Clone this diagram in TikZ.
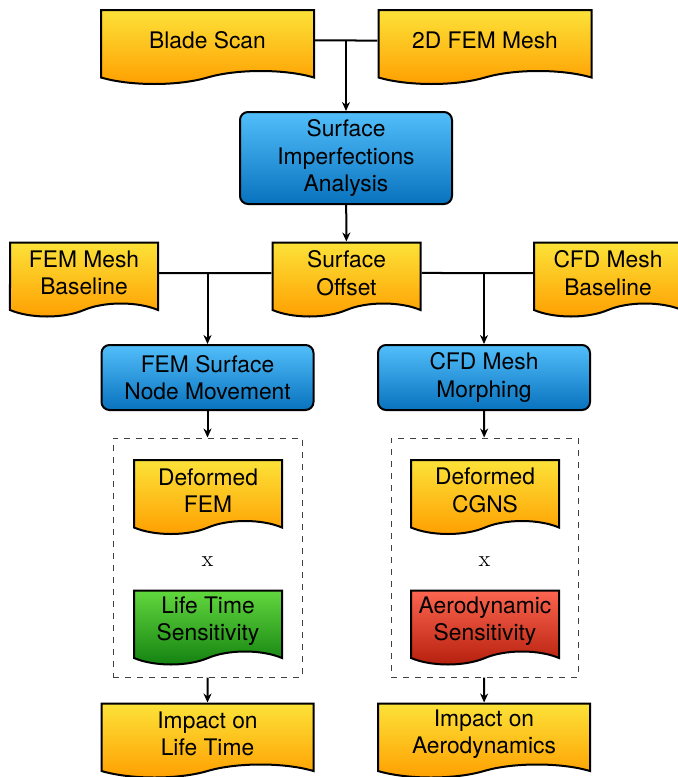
\documentclass[tikz,border=0pt]{standalone}
\usepackage{fontspec}
\setsansfont{TeX Gyre Heros}
\usetikzlibrary{shapes.symbols,arrows.meta}

\definecolor{docTop}{RGB}{252,226,56}
\definecolor{docBottom}{RGB}{255,158,0}
\definecolor{procTop}{RGB}{82,190,250}
\definecolor{procBottom}{RGB}{8,114,190}
\definecolor{lifeTop}{RGB}{98,216,62}
\definecolor{lifeBottom}{RGB}{18,128,16}
\definecolor{aeroTop}{RGB}{252,102,80}
\definecolor{aeroBottom}{RGB}{180,30,12}

\begin{document}
\begin{tikzpicture}[x=0.5pt, y=-0.5pt,
    font=\sffamily\fontsize{11.4}{13.7}\selectfont,
    docbox/.style={tape, tape bend top=none, tape bend height=6.5pt, draw, line width=1pt,
        align=center, inner sep=1pt, minimum width=74pt, minimum height=37pt,
        top color=docTop, bottom color=docBottom},
    procbox/.style={rectangle, rounded corners=4pt, draw, line width=1pt, align=center,
        minimum width=106pt, minimum height=32.5pt, top color=procTop, bottom color=procBottom},
    link/.style={line width=1pt},
    arrow/.style={line width=1pt, -{Stealth[length=4.5pt, width=4pt]}},
    group/.style={draw=black!75, dashed, line width=0.5pt, minimum height=119.5pt}
]
\useasboundingbox (0,0) rectangle (678,777);

% --- Inputs ---
\node[docbox, minimum width=106.5pt] (scan) at (207.5,40.5) {Blade Scan};
\node[docbox, minimum width=106.5pt] (mesh2d) at (485,40.5) {2D FEM Mesh};
\node[procbox, minimum height=46pt] (sia) at (346,158) {Surface\\Imperfections\\Analysis};

\draw[link] (scan) -- (mesh2d);
\draw[arrow] (sia |- scan.east) -- (sia);

% --- Offset and baselines ---
\node[docbox] (offset) at (346.5,273) {Surface\\Offset};
\node[docbox] (fembase) at (84,273) {FEM Mesh\\Baseline};
\node[docbox] (cfdbase) at (608,273) {CFD Mesh\\Baseline};
\draw[arrow] (sia) -- (offset);

\node[procbox] (femmove) at (207.5,377.5) {FEM Surface\\Node Movement};
\node[procbox] (cfdmove) at (484,377.5) {CFD Mesh\\Morphing};

\draw[link] (fembase) -- (offset);
\draw[link] (offset) -- (cfdbase);
\draw[arrow] (femmove |- fembase.east) -- (femmove);
\draw[arrow] (cfdmove |- cfdbase.west) -- (cfdmove);

% --- Sensitivity products ---
\node[group, minimum width=94.5pt] (femgroup) at (207.5,557.5) {};
\node[group, minimum width=93.5pt] (cfdgroup) at (484.5,557.5) {};

\node[docbox] (deffem) at (208,490.5) {Deformed\\FEM};
\node[font=\rmfamily\fontsize{11.4}{13.7}\selectfont] (femtimes) at (207.5,562) {x};
\node[docbox, top color=lifeTop, bottom color=lifeBottom] (lifesens) at (208,621) {Life Time\\Sensitivity};

\node[docbox] (defcgns) at (485,490.5) {Deformed\\CGNS};
\node[font=\rmfamily\fontsize{11.4}{13.7}\selectfont] (cfdtimes) at (484.5,562) {x};
\node[docbox, top color=aeroTop, bottom color=aeroBottom] (aerosens) at (485,621) {Aerodynamic\\Sensitivity};

\draw[arrow] (femmove) -- (femgroup);
\draw[arrow] (cfdmove) -- (cfdgroup);

% --- Results ---
\node[docbox, minimum width=106pt] (implife) at (207.5,734) {Impact on\\Life Time};
\node[docbox, minimum width=106pt] (impaero) at (484,734) {Impact on\\Aerodynamics};

\draw[arrow] (femgroup) -- (implife);
\draw[arrow] (cfdgroup) -- (impaero);
\end{tikzpicture}
\end{document}
